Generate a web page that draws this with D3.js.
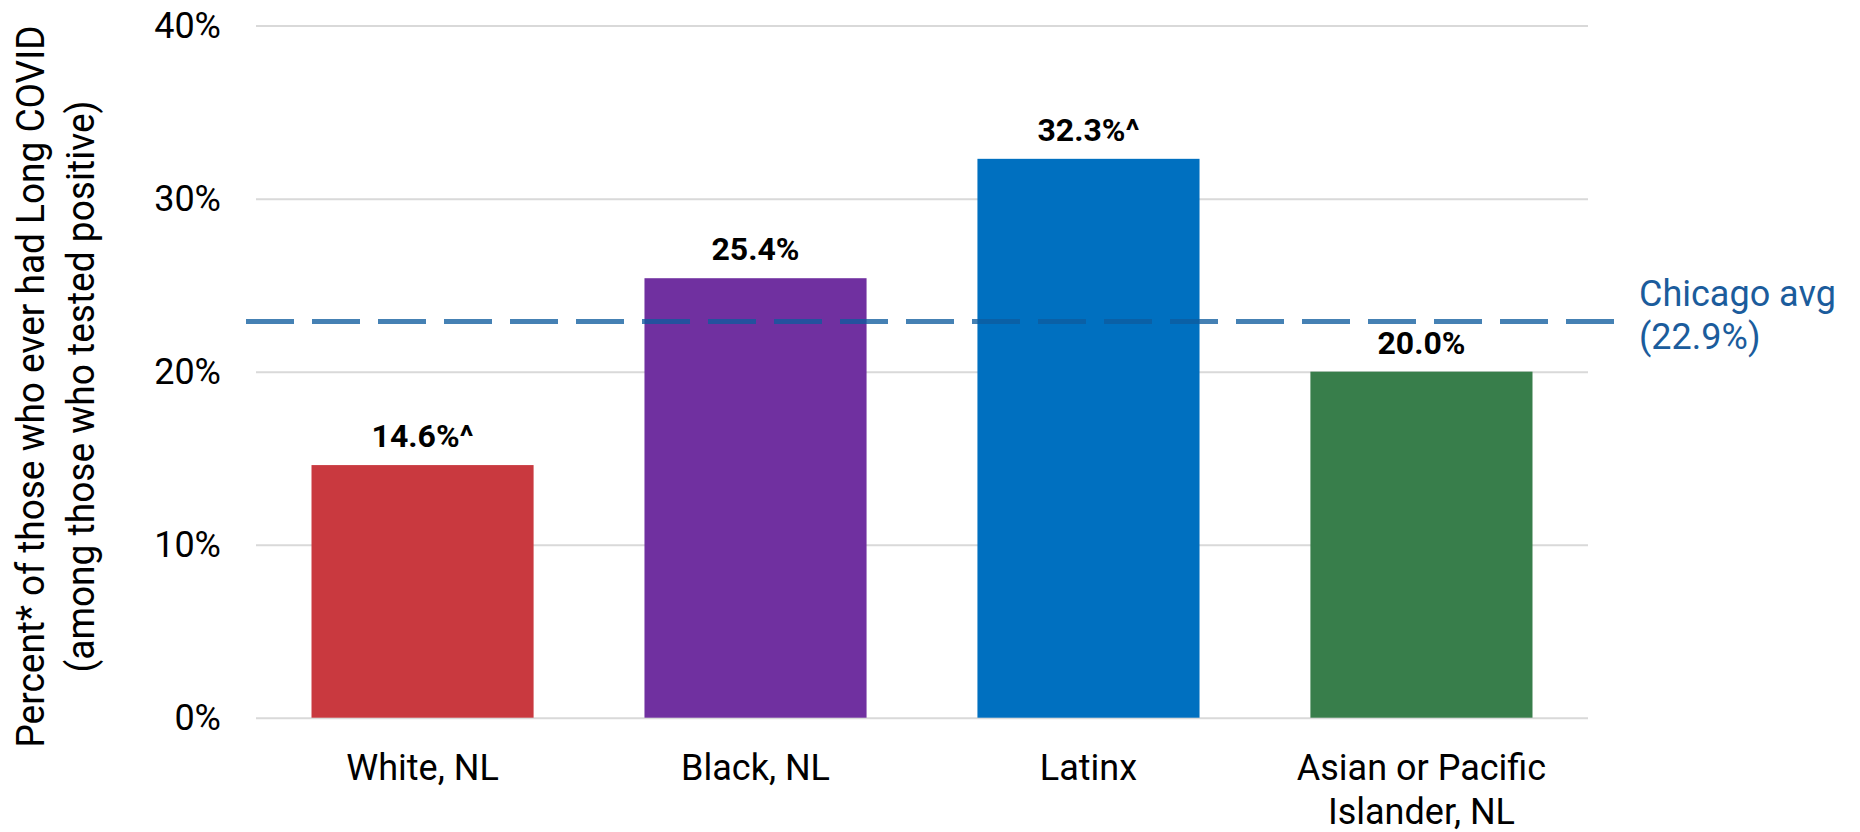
<!DOCTYPE html>
<html>
<head>
<meta charset="utf-8">
<script src="https://cdn.jsdelivr.net/npm/d3@7"></script>
<style>
  html, body { margin: 0; padding: 0; background: #ffffff; }
  svg { display: block; font-family: Roboto, "Noto Sans", sans-serif; }
</style>
</head>
<body>
<svg id="chart" width="1860" height="832"></svg>
<script>
// Long COVID share among residents who tested positive, by race/ethnicity
const categories = ["White, NL", "Black, NL", "Latinx", "Asian or Pacific Islander, NL"];
const categoryLines = [["White, NL"], ["Black, NL"], ["Latinx"], ["Asian or Pacific", "Islander, NL"]];
const values = [14.6, 25.4, 32.3, 20.0];
const valueLabels = ["14.6%^", "25.4%", "32.3%^", "20.0%"];
const barColors = ["#C9393F", "#7030A0", "#0070C0", "#387E4B"];
const tickValues = [0, 10, 20, 30, 40];
const tickLabels = ["0%", "10%", "20%", "30%", "40%"];
const cityAverage = 22.9;
const cityLabel = ["Chicago avg", "(22.9%)"];
const yTitle = ["Percent* of those who ever had Long COVID", "(among those who tested positive)"];

const svg = d3.select("#chart");
const plotLeft = 256, plotRight = 1588, plotTop = 25.6, plotBottom = 717.7;

const x = d3.scaleBand()
  .domain(categories)
  .range([plotLeft, plotRight])
  .paddingInner(0.333)
  .paddingOuter(0.1667);

const y = d3.scaleLinear().domain([0, 40]).range([plotBottom, plotTop]);

// gridlines + tick labels
const yAxis = svg.append("g")
  .attr("transform", `translate(${plotLeft},0)`)
  .call(d3.axisLeft(y)
    .tickValues(tickValues)
    .tickFormat((d, i) => tickLabels[i])
    .tickSizeInner(-(plotRight - plotLeft))
    .tickSizeOuter(0)
    .tickPadding(35));
yAxis.select(".domain").remove();
yAxis.selectAll(".tick line")
  .attr("stroke", "#d9d9d9")
  .attr("stroke-width", 2);
yAxis.selectAll(".tick text")
  .attr("font-family", "Roboto")
  .attr("font-size", 36)
  .attr("fill", "#000");

// bars
svg.append("g").selectAll("rect")
  .data(values)
  .join("rect")
  .attr("x", (d, i) => x(categories[i]))
  .attr("width", x.bandwidth())
  .attr("y", d => y(d))
  .attr("height", d => y(0) - y(d))
  .attr("fill", (d, i) => barColors[i]);

// value labels
svg.append("g").selectAll("text")
  .data(values)
  .join("text")
  .attr("x", (d, i) => x(categories[i]) + x.bandwidth() / 2)
  .attr("y", d => y(d) - 18)
  .attr("text-anchor", "middle")
  .attr("font-family", "Roboto")
  .attr("font-weight", "bold")
  .attr("font-size", 32)
  .attr("fill", "#000")
  .text((d, i) => valueLabels[i]);

// category axis (labels may wrap onto two lines)
const xAxis = svg.append("g")
  .attr("transform", `translate(0,${plotBottom})`)
  .call(d3.axisBottom(x).tickSize(0).tickPadding(37));
xAxis.select(".domain").remove();
xAxis.selectAll(".tick text")
  .attr("font-family", "Roboto")
  .attr("font-size", 36)
  .attr("fill", "#000")
  .attr("dy", null)
  .text(null)
  .each(function (d) {
    const lines = categoryLines[categories.indexOf(d)];
    const t = d3.select(this);
    lines.forEach((ln, j) => {
      t.append("tspan")
        .attr("x", 0)
        .attr("dy", j === 0 ? "0.71em" : 44)
        .text(ln);
    });
  });

// city average reference line
const avgY = y(cityAverage);
svg.append("line")
  .attr("x1", plotLeft - 10)
  .attr("x2", 1614)
  .attr("y1", avgY)
  .attr("y2", avgY)
  .attr("stroke", "#0D5B9D")
  .attr("stroke-opacity", 0.77)
  .attr("stroke-width", 5)
  .attr("stroke-dasharray", "48,18");

svg.append("g").selectAll("text")
  .data(cityLabel)
  .join("text")
  .attr("x", 1639)
  .attr("y", (d, i) => avgY - 15 + i * 43)
  .attr("font-family", "Roboto")
  .attr("font-size", 36)
  .attr("fill", "#1B5C9C")
  .text(d => d);

// y-axis title
const titleLengths = [722, 572];
svg.append("g").selectAll("text")
  .data(yTitle)
  .join("text")
  .attr("transform", (d, i) => `translate(${44 + i * 50},386.5) rotate(-90)`)
  .attr("text-anchor", "middle")
  .attr("font-family", "Roboto")
  .attr("font-size", 39)
  .attr("fill", "#000")
  .attr("textLength", (d, i) => titleLengths[i])
  .attr("lengthAdjust", "spacingAndGlyphs")
  .text(d => d);
</script>
</body>
</html>
